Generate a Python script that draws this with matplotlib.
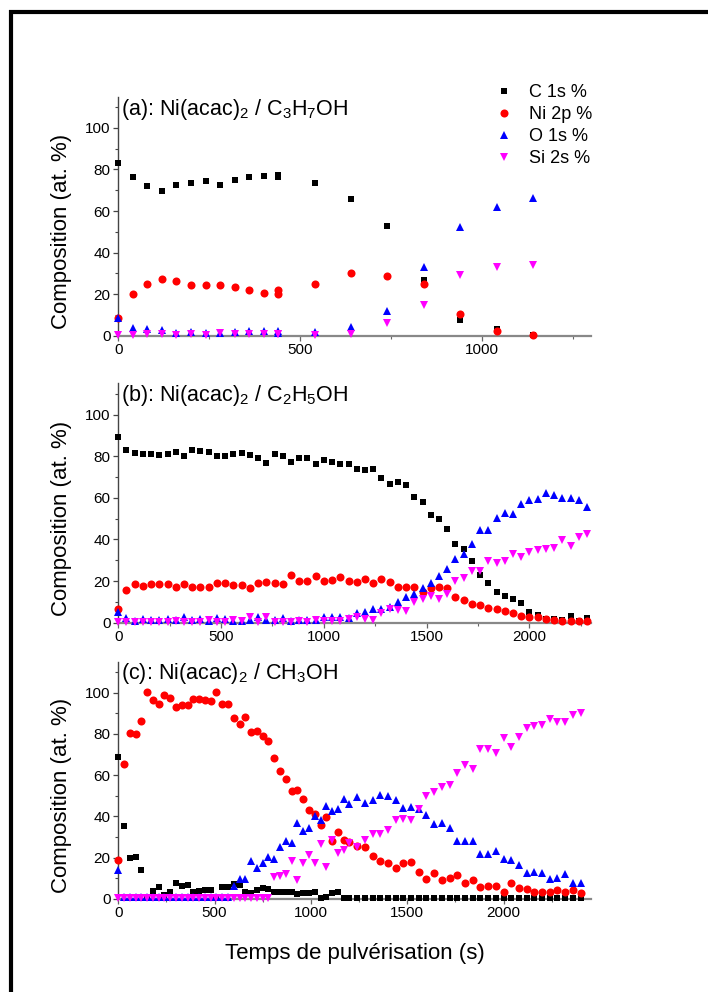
import matplotlib
matplotlib.use("Agg")
import matplotlib.pyplot as plt
from matplotlib.lines import Line2D
from matplotlib.ticker import MultipleLocator

plt.rcParams['font.family'] = ['Liberation Sans', 'DejaVu Sans']
plt.rcParams['mathtext.fontset'] = 'custom'
plt.rcParams['mathtext.rm'] = 'Liberation Sans'
plt.rcParams['mathtext.default'] = 'regular'

series_labels = ['C 1s %', 'Ni 2p %', 'O 1s %', 'Si 2s %']
panel_titles = ['(a): Ni(acac)$_2$ / C$_3$H$_7$OH',
                '(b): Ni(acac)$_2$ / C$_2$H$_5$OH',
                '(c): Ni(acac)$_2$ / CH$_3$OH']

# (a) C3H7OH
a_time = [0, 40, 80, 120, 160, 200, 240, 280, 320, 360, 400, 440, 440,
          540, 640, 740, 840, 940, 1040, 1140]
a_c = [83.1, 76.5, 72, 69.6, 72.7, 73.5, 74.6, 72.3, 74.9, 76.2, 76.7, 77.5, 76.2,
       73.6, 65.8, 52.9, 26.8, 7.6, 3.2, 0.3]
a_ni = [8.7, 20.1, 25.1, 27.5, 26.5, 24.6, 24.3, 24.4, 23.3, 21.9, 20.6, 22, 19.9,
        25.1, 30.2, 28.8, 25.1, 10.5, 2.1, 0.5]
a_o = [8.7, 3.9, 3.1, 2.6, 1.4, 1.6, 1.4, 1.4, 1.9, 2.2, 2.4, 2.4, 1.5,
       1.6, 4.0, 11.7, 33, 52.4, 61.9, 66.1]
a_si = [0.2, 0.5, 0.6, 0.8, 0.2, 0.6, 0.5, 1.4, 0.6, 0.6, 0.8, 1.0, 0.8,
        0.3, 0.6, 6.3, 15, 29.4, 33.1, 33.8]

# (b) C2H5OH
b_time = [0, 40, 80, 120, 160, 200, 240, 280, 320, 360,
          400, 440, 480, 520, 560, 600, 640, 680, 720, 760,
          800, 840, 880, 920, 960, 1000, 1040, 1080, 1120, 1160,
          1200, 1240, 1280, 1320, 1360, 1400, 1440, 1480, 1520, 1560,
          1600, 1640, 1680, 1720, 1760, 1800, 1840, 1880, 1920, 1960,
          2000, 2040, 2080, 2120, 2160, 2200, 2240, 2280]
b_c = [89.2, 83.1, 81.5, 81.2, 81.2, 80.7, 81, 82, 79.9, 82.8,
       82.3, 81.8, 79.9, 80.2, 81, 81.7, 80.7, 79.1, 76.6, 81,
       80.2, 77.2, 79.1, 79.3, 76.2, 78, 77.3, 76.4, 76.4, 74,
       73.2, 73.8, 69.3, 66.5, 67.6, 66, 60.2, 57.8, 51.8, 49.8,
       44.9, 37.7, 35.3, 29.5, 23.1, 19.1, 14.8, 12.8, 11.2, 9.3,
       5, 3.7, 1.9, 1.8, 1.3, 3.4, 1, 2.1]
b_ni = [6.6, 15.7, 18.6, 17.8, 18.5, 18.6, 18.5, 17.3, 18.6, 17,
        17, 17.3, 19.3, 19.3, 18.1, 18.1, 16.5, 19.3, 19.4, 18.9,
        18.5, 23, 20.1, 20.1, 22.5, 20.1, 20.4, 22, 20.1, 19.7,
        21.2, 18.9, 21.2, 19.4, 17, 17, 17, 14.6, 16.5, 17.3,
        16.5, 12.2, 10.8, 9, 8.3, 6.9, 6.4, 5.5, 4.8, 3.2,
        2.9, 2.6, 1.6, 1.4, 1, 1, 0.6, 0.8]
b_o = [5.3, 2.1, 1, 1.8, 1.3, 1.3, 1.6, 1.3, 2.9, 1.3,
       1.6, 1, 2.1, 1.8, 1, 1, 1.3, 2.6, 1.3, 1.3,
       2.1, 1, 1.3, 1.3, 1.3, 2.9, 2.9, 2.6, 2.1, 4.5,
       5, 6.4, 6.4, 7.7, 10.1, 12.2, 13.6, 16.5, 19.3, 22.2,
       26, 30.8, 33.1, 37.9, 44.6, 44.6, 50.4, 52.6, 52, 56.8,
       58.7, 59.5, 62.3, 61.2, 60, 59.7, 58.9, 55.5]
b_si = [0.5, 0.3, 0.4, 0.5, 0.3, 0.5, 0.4, 0.6, 0.5, 0.4,
        0.5, 1.2, 0.5, 0.5, 1.5, 0.8, 2.8, 0.5, 2.6, 0.5,
        0.5, 0.5, 0.8, 0.5, 1.5, 0.8, 0.8, 0.8, 1.8, 2.9,
        1.8, 1.3, 4.5, 6.6, 6.1, 5.6, 10.1, 11.4, 13, 11.4,
        13.8, 19.8, 21.3, 24.6, 24.6, 29.5, 28.9, 29.7, 33, 31.5,
        34, 34.7, 35.2, 36.1, 39.5, 36.9, 41.4, 42.5]

# (c) CH3OH
c_time = [0, 30, 60, 90, 120, 150, 180, 210, 240, 270,
          300, 330, 360, 390, 420, 450, 480, 510, 540, 570,
          600, 630, 660, 690, 720, 750, 780, 810, 840, 870,
          900, 930, 960, 990, 1020, 1050, 1080, 1110, 1140, 1170,
          1200, 1240, 1280, 1320, 1360, 1400, 1440, 1480, 1520, 1560,
          1600, 1640, 1680, 1720, 1760, 1800, 1840, 1880, 1920, 1960,
          2000, 2040, 2080, 2120, 2160, 2200, 2240, 2280, 2320, 2360,
          2400]
c_c = [68.6, 35.1, 20, 20.3, 13.8, 0.3, 3.9, 5.8, 1.8, 3.1,
       7.7, 6.1, 6.6, 3.4, 3.7, 4.2, 4.2, 0.3, 5.8, 5.8,
       7.1, 6.6, 3.4, 2.6, 4.2, 5, 4.5, 3.4, 3.1, 3.1,
       3.4, 2.1, 2.9, 2.6, 3.1, 0.6, 1, 2.6, 3.1, 0.5,
       0.5, 0.2, 0.2, 0.2, 0.2, 0.2, 0.2, 0.2, 0.2, 0.2,
       0.2, 0.2, 0.2, 0.2, 0.2, 0.2, 0.2, 0.2, 0.2, 0.2,
       0.2, 0.2, 0.2, 0.2, 0.2, 0.2, 0.2, 0.2, 0.2, 0.2,
       0.2]
c_ni = [18.7, 65.4, 80.2, 79.9, 86.3, 100.3, 96.5, 94.7, 98.7, 97.3,
        92.8, 94, 93.9, 97.1, 97.1, 96.5, 96, 100.3, 94.7, 94.7,
        87.9, 84.7, 88.4, 81, 81.5, 79.1, 76.7, 68.3, 61.8, 58.1,
        52.5, 52.8, 48.5, 43.2, 40.9, 35.6, 39.6, 28, 32.4, 28.3,
        27.5, 25.6, 25.1, 20.8, 18.2, 17.2, 14.7, 17.1, 17.7, 12.9,
        9.7, 12.6, 9.3, 10.3, 11.3, 7.4, 9.2, 5.5, 6, 6.4,
        3.1, 7.7, 5, 4.8, 3.5, 3.5, 3.5, 4.2, 3.2, 4.2,
        2.9]
c_o = [13.8, 0.8, 0.8, 0.8, 0.8, 0.8, 0.8, 0.8, 0.8, 0.8,
       0.8, 0.8, 0.8, 0.8, 0.8, 0.8, 0.8, 0.8, 0.8, 0.8,
       6.1, 9.5, 9.5, 18.2, 15.1, 17.1, 20.3, 19.2, 25.1, 27.9,
       27.2, 36.7, 32.7, 34.3, 39.9, 38.3, 44.9, 42.4, 43.6, 48.5,
       46, 49.3, 46.5, 48.1, 50.4, 49.6, 47.7, 44.1, 44.4, 43.5,
       40.7, 36.1, 36.7, 34.3, 27.9, 27.9, 28, 21.9, 21.9, 23.2,
       19.2, 18.7, 16.6, 12.7, 13.2, 12.6, 9.8, 10.3, 11.8, 7.4,
       7.4]
c_si = [0.3, 0.3, 0.3, 0.3, 0.3, 0.3, 0.3, 0.3, 0.3, 0.3,
        0.3, 0.3, 0.3, 0.3, 0.3, 0.3, 0.3, 0.3, 0.3, 0.3,
        0.3, 0.3, 0.3, 0.3, 0.3, 0.3, 0.3, 10.6, 11, 11.9,
        18.2, 9.3, 17.1, 21.4, 17.4, 26.4, 15.5, 28.3, 22.2, 23.8,
        27.2, 25.1, 28.7, 31.2, 31.6, 33.2, 38, 38.8, 38, 43.5,
        49.8, 51.7, 54.1, 55.4, 61, 65.1, 62.8, 72.6, 72.5, 70.5,
        77.9, 73.4, 78.7, 82.6, 83.6, 84.2, 87.1, 85.8, 85.8, 89,
        90]

panels = [
    (a_time, [a_c, a_ni, a_o, a_si], 1300),
    (b_time, [b_c, b_ni, b_o, b_si], 2300),
    (c_time, [c_c, c_ni, c_o, c_si], 2455),
]

colors = ['black', '#ff0000', '#0000ff', '#ff00ff']
markers = ['s', 'o', '^', 'v']
msizes = [5.0, 5.8, 6.0, 6.0]

fig = plt.figure(figsize=(7.08, 9.92), dpi=100)

# axes boxes in figure fractions: left, bottom, width, height
boxes = [(0.167, 0.6616, 0.668, 0.2409),
         (0.167, 0.3723, 0.668, 0.2413),
         (0.167, 0.0940, 0.668, 0.2390)]

axes = []
for k, (t, ys, xmax) in enumerate(panels):
    ax = fig.add_axes(boxes[k])
    for y, col, mk, ms, lab in zip(ys, colors, markers, msizes, series_labels):
        ax.plot(t, y, linestyle='none', marker=mk, color=col, markersize=ms,
                markeredgewidth=0, label=lab, clip_on=False, zorder=3)
    ax.set_xlim(0, xmax)
    ax.set_ylim(0, 115)
    ax.xaxis.set_major_locator(MultipleLocator(500))
    ax.xaxis.set_minor_locator(MultipleLocator(250))
    ax.yaxis.set_minor_locator(MultipleLocator(10))
    ax.set_yticks([0, 20, 40, 60, 80, 100])
    ax.spines['top'].set_visible(False)
    ax.spines['right'].set_visible(False)
    ax.spines['left'].set_color('#444444')
    ax.spines['left'].set_linewidth(1.0)
    ax.spines['bottom'].set_color('#888888')
    ax.spines['bottom'].set_linewidth(1.6)
    ax.tick_params(which='both', direction='out', labelsize=11, pad=2)
    ax.tick_params(which='major', length=3.5, width=0.9)
    ax.tick_params(which='minor', length=2.2, width=0.8)
    ax.tick_params(axis='x', which='both', color='#666666')
    ax.tick_params(axis='y', which='both', color='#444444')
    ax.set_ylabel('Composition (at. %)', fontsize=16)
    ax.yaxis.set_label_coords(-0.098, 0.435)
    ax.text(0.006, 0.948, panel_titles[k], transform=ax.transAxes,
            fontsize=15.5, ha='left', va='center')
    axes.append(ax)

axes[2].set_xlabel('Temps de pulvérisation (s)', fontsize=16, labelpad=16)

axes[0].legend(loc='upper left', bbox_to_anchor=(0.699, 0.915),
               bbox_transform=fig.transFigure, frameon=False, fontsize=13,
               handlelength=1.0, handletextpad=0.9, labelspacing=0.28,
               borderpad=0, borderaxespad=0, markerscale=1.0)

# thick frame at the top and left edge of the picture
fig.add_artist(Line2D([8.5 / 708, 1.0], [1 - 11.5 / 992] * 2,
                      transform=fig.transFigure, color='black', lw=3.0,
                      solid_capstyle='butt'))
fig.add_artist(Line2D([10.5 / 708] * 2, [0.0, 1 - 10 / 992],
                      transform=fig.transFigure, color='black', lw=3.0,
                      solid_capstyle='butt'))

fig.savefig('out.png', dpi=100)
